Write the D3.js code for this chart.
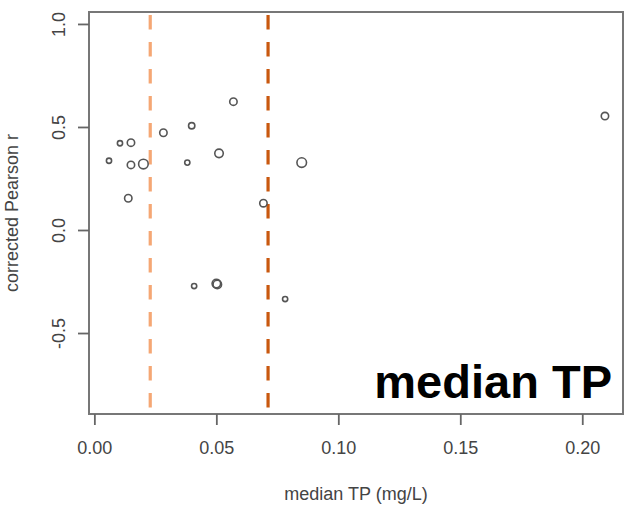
<!DOCTYPE html>
<html>
<head>
<meta charset="utf-8">
<script src="https://cdn.jsdelivr.net/npm/d3@7"></script>
<style>
    body { margin: 0; background: #fff; }
    svg { display: block; }
    text { font-family: "Liberation Sans", Arial, sans-serif; }
</style>
</head>
<body>
<div id="chart"></div>
<script>

// median TP (mg/L) per site
const medianTP = [0.0060, 0.0105, 0.0150, 0.0150, 0.0201, 0.0139, 0.0283, 0.0381, 0.0399,
    0.0511, 0.0570, 0.0409, 0.0500, 0.0504, 0.0693, 0.0782, 0.0850, 0.2093];
// corrected Pearson r per site
const pearsonR = [0.336, 0.421, 0.424, 0.316, 0.320, 0.154, 0.472, 0.327, 0.506,
    0.372, 0.623, -0.272, -0.260, -0.264, 0.130, -0.335, 0.327, 0.553];
// relative weight of each site (drives symbol size)
const siteWeight = [1, 1, 2, 2, 3, 2, 2, 1, 1.5,
    2.5, 2, 1, 2.5, 2.5, 2, 1, 3, 2];

// threshold lines
const thresholds = [0.0229, 0.0712];
const thresholdColors = ["#f5a774", "#c9580f"];

const xTicks = [0, 0.05, 0.10, 0.15, 0.20];
const yTicks = [-0.5, 0, 0.5, 1.0];

const data = medianTP.map((d, i) => ({x: d, y: pearsonR[i], w: siteWeight[i]}));

let width = 624, height = 505;
let plot = {left: 89, right: 623, top: 12, bottom: 414};

let svg = d3.select("#chart")
    .append("svg")
    .attr("width", width)
    .attr("height", height);

let x = d3.scaleLinear()
    .domain([-0.0022, 0.2167])
    .range([plot.left, plot.right]);

let y = d3.scaleLinear()
    .domain([-0.893, 1.058])
    .range([plot.bottom, plot.top]);

let r = d3.scaleLinear()
    .domain([1, 3])
    .range([2.6, 4.8]);

// R style labels use a plain hyphen for negatives
let fmt = digits => d => d.toFixed(digits);

// dashed threshold lines
svg.append("g")
    .selectAll("line")
    .data(thresholds)
    .enter()
    .append("line")
    .attr("x1", d => x(d))
    .attr("x2", d => x(d))
    .attr("y1", y.range()[1])
    .attr("y2", y.range()[0])
    .attr("stroke", (d, i) => thresholdColors[i])
    .attr("stroke-width", 3.2)
    .attr("stroke-dasharray", "14.5,12.5")
    .attr("stroke-dashoffset", -3);

// points
svg.append("g")
    .selectAll("circle")
    .data(data)
    .enter()
    .append("circle")
    .attr("cx", d => x(d.x))
    .attr("cy", d => y(d.y))
    .attr("r", d => r(d.w))
    .attr("fill", "none")
    .attr("stroke", "#555")
    .attr("stroke-width", 1.6);

// plot box
svg.append("rect")
    .attr("x", plot.left)
    .attr("y", plot.top)
    .attr("width", plot.right - plot.left)
    .attr("height", plot.bottom - plot.top)
    .attr("fill", "none")
    .attr("stroke", "#777")
    .attr("stroke-width", 2);

// x axis
let xAxis = svg.append("g")
    .attr("transform", `translate(0, ${plot.bottom})`)
    .call(d3.axisBottom(x).tickValues(xTicks).tickFormat(fmt(2)).tickSize(11).tickPadding(16));
xAxis.select(".domain").remove();
xAxis.selectAll(".tick line").attr("stroke", "#666").attr("stroke-width", 1.8);
xAxis.selectAll(".tick text")
    .attr("font-size", 18)
    .attr("fill", "#444")
    .attr("font-family", "Liberation Sans, Arial, sans-serif");

// y axis
let yAxis = svg.append("g")
    .attr("transform", `translate(${plot.left}, 0)`)
    .call(d3.axisLeft(y).tickValues(yTicks).tickFormat(fmt(1)).tickSize(11));
yAxis.select(".domain").remove();
yAxis.selectAll(".tick line").attr("stroke", "#666").attr("stroke-width", 1.8);
yAxis.selectAll(".tick text")
    .attr("font-size", 18)
    .attr("fill", "#444")
    .attr("font-family", "Liberation Sans, Arial, sans-serif")
    .attr("text-anchor", "middle")
    .attr("x", 0)
    .attr("dy", 0)
    .attr("transform", "translate(-29, 0) rotate(-90)")
    .attr("dominant-baseline", "middle");

// axis titles
svg.append("text")
    .attr("x", (plot.left + plot.right) / 2)
    .attr("y", 500)
    .attr("text-anchor", "middle")
    .attr("font-size", 18)
    .attr("fill", "#444")
    .text("median TP (mg/L)");

svg.append("text")
    .attr("transform", `translate(18, ${(plot.top + plot.bottom) / 2}) rotate(-90)`)
    .attr("text-anchor", "middle")
    .attr("font-size", 18)
    .attr("fill", "#444")
    .text("corrected Pearson r");

// panel label
svg.append("text")
    .attr("x", 612)
    .attr("y", 398)
    .attr("text-anchor", "end")
    .attr("font-size", 47)
    .attr("font-weight", "bold")
    .attr("fill", "#000")
    .text("median TP");

</script>
</body>
</html>
